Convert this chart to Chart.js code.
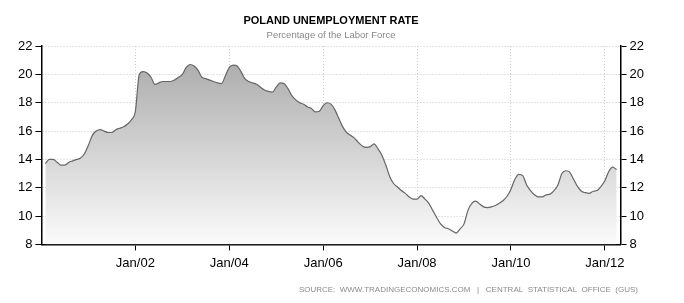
<!DOCTYPE html>
<html>
<head>
<meta charset="utf-8">
<script src="https://cdn.jsdelivr.net/npm/chart.js@4/dist/chart.umd.min.js"></script>
<style>
  body { margin: 0; background: #fff; }
  #wrap { position: relative; width: 684px; height: 303px; }
</style>
</head>
<body>
<div id="wrap"><canvas id="myChart"></canvas></div>
<script>
// monthly unemployment rate, Feb 2000 .. Apr 2012
var startMonth = 1; // months after Jan 2000
var rates = [
    13.7, 14.0, 14.0, 13.8, 13.6, 13.6, 13.8, 13.9, 14.0, 14.1, 14.4,
    15.0, 15.7, 16.0, 16.1, 16.0, 15.9, 15.9, 16.1, 16.2, 16.3, 16.5, 16.8,
    17.4, 20.0, 20.2, 20.1, 19.8, 19.3, 19.4, 19.5, 19.5, 19.5, 19.6, 19.8,
    20.0, 20.5, 20.7, 20.6, 20.3, 19.8, 19.7, 19.6, 19.5, 19.4, 19.35, 19.9,
    20.5, 20.66, 20.6, 20.2, 19.7, 19.5, 19.4, 19.3, 19.1, 18.9, 18.8, 18.75,
    19.1, 19.4, 19.35, 19.0, 18.5, 18.2, 18.0, 17.9, 17.7, 17.6, 17.35, 17.4,
    17.8, 18.0, 17.9, 17.5, 16.9, 16.3, 15.9, 15.7, 15.5, 15.2, 14.95, 14.85,
    14.9, 15.1, 14.75, 14.3, 13.6, 12.8, 12.3, 12.05, 11.8, 11.6, 11.35, 11.2,
    11.2, 11.45, 11.2, 10.9, 10.4, 9.9, 9.45, 9.2, 9.1, 8.95, 8.8, 9.1,
    9.45, 10.4, 10.9, 11.05, 10.85, 10.65, 10.6, 10.65, 10.75, 10.9, 11.1, 11.4,
    11.9, 12.6, 12.95, 12.85, 12.2, 11.8, 11.5, 11.35, 11.35, 11.5, 11.55, 11.8,
    12.2, 13.0, 13.2, 13.1, 12.6, 12.1, 11.75, 11.65, 11.6, 11.75, 11.8, 12.1,
    12.5, 13.15, 13.45, 13.28
];
var tickMonths = [24, 48, 72, 96, 120, 144];
var tickLabels = ['Jan/02', 'Jan/04', 'Jan/06', 'Jan/08', 'Jan/10', 'Jan/12'];

var points = rates.map(function (v, i) { return { x: startMonth + i, y: v }; });

var sourceText = {
    id: 'sourceText',
    afterDraw: function (chart) {
        var c = chart.ctx;
        c.save();
        c.font = '8px "Liberation Sans"';
        c.fillStyle = '#8a8a8a';
        c.textAlign = 'right';
        c.textBaseline = 'middle';
        c.fillText('SOURCE:  WWW.TRADINGECONOMICS.COM   |   CENTRAL  STATISTICAL  OFFICE  (GUS)', 638, 290);
        c.restore();
    }
};

var yTicks = {
    font: { family: 'Liberation Sans', size: 13 },
    color: '#000',
    padding: 3,
    stepSize: 2
};

var ctx = document.getElementById('myChart').getContext('2d');
var myChart = new Chart(ctx, {
    type: 'line',
    data: {
        datasets: [{
            label: 'Unemployment rate',
            data: points,
            borderColor: '#666',
            borderWidth: 1.2,
            pointRadius: 0,
            cubicInterpolationMode: 'monotone',
            fill: 'start',
            backgroundColor: function (context) {
                var area = context.chart.chartArea;
                if (!area) return null;
                var g = context.chart.ctx.createLinearGradient(0, area.top, 0, area.bottom);
                g.addColorStop(0, '#a6a6a6');
                g.addColorStop(1, '#fbfbfb');
                return g;
            }
        }]
    },
    options: {
        responsive: true,
        maintainAspectRatio: false,
        animation: false,
        layout: { padding: { left: 15, right: 37, top: 0, bottom: 27 } },
        plugins: {
            legend: { display: false },
            tooltip: { enabled: false },
            title: {
                display: true,
                text: 'POLAND UNEMPLOYMENT RATE',
                color: '#000',
                font: { family: 'Liberation Sans', size: 11, weight: 'bold' },
                padding: { top: 14, bottom: 2 }
            },
            subtitle: {
                display: true,
                text: 'Percentage of the Labor Force',
                color: '#888',
                font: { family: 'Liberation Sans', size: 9.5 },
                padding: { top: 0, bottom: 5.5 }
            }
        },
        scales: {
            x: {
                type: 'linear',
                min: 0,
                max: 148,
                afterBuildTicks: function (axis) {
                    axis.ticks = tickMonths.map(function (m) { return { value: m }; });
                },
                ticks: {
                    autoSkip: false,
                    maxRotation: 0,
                    padding: 5,
                    color: '#000',
                    font: { family: 'Liberation Sans', size: 13 },
                    callback: function (value) {
                        var i = tickMonths.indexOf(value);
                        return i >= 0 ? tickLabels[i] : null;
                    }
                },
                grid: { color: '#c8c8c8', tickColor: '#000', tickLength: 6, tickBorderDash: [] },
                border: { color: '#000', width: 1.5, dash: [1, 2] }
            },
            y: {
                position: 'left',
                min: 8,
                max: 22,
                ticks: yTicks,
                grid: { color: '#c8c8c8', tickColor: '#000', tickLength: 6, tickBorderDash: [] },
                border: { color: '#000', width: 1.5, dash: [1, 2] }
            },
            y2: {
                position: 'right',
                min: 8,
                max: 22,
                ticks: yTicks,
                grid: { drawOnChartArea: false, tickColor: '#000', tickLength: 6 },
                border: { color: '#000', width: 1.5 }
            }
        }
    },
    plugins: [sourceText]
});
</script>
</body>
</html>
